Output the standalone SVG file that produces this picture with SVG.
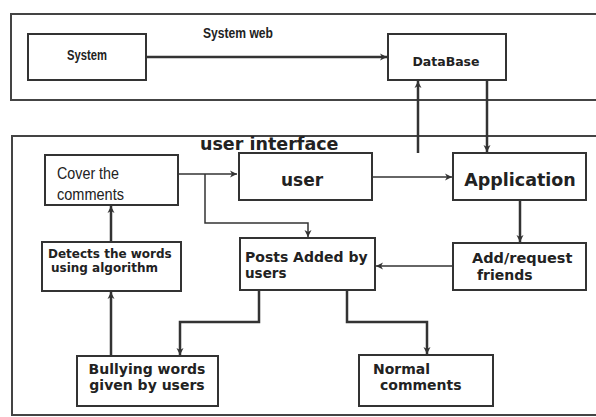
<svg xmlns="http://www.w3.org/2000/svg" width="596" height="417" viewBox="0 0 596 417">
<style>
.box{fill:#fff;stroke:#333;stroke-width:2}
.frame{fill:none;stroke:#444;stroke-width:2}
.b{font-family:"DejaVu Sans",Verdana,sans-serif;font-weight:bold;fill:#222}
.r{font-family:"Liberation Sans",Arial,sans-serif;fill:#222}
.c{fill:none;stroke:#333}
.thick{stroke-width:2.5}
.thin{stroke-width:1.5}
</style>
<defs>
<marker id="ah" markerWidth="10" markerHeight="10" refX="8" refY="5" orient="auto" markerUnits="userSpaceOnUse">
<path d="M1,1.5 L8,5 L1,8.5 L3,5 Z" fill="#333"/>
</marker>
</defs>
<rect width="596" height="417" fill="#fff"/>
<g id="system-web">
<rect class="frame" x="11" y="14" width="600" height="86"/>
<text class="r" x="203" y="38" font-size="15" font-weight="bold" textLength="70" lengthAdjust="spacingAndGlyphs">System web</text>
</g>
<g id="user-interface">
<rect class="frame" x="12" y="136" width="600" height="279"/>
<text class="b" x="200" y="150" font-size="17.5">user interface</text>
</g>
<g id="connectors">
<line class="c thick" x1="146" y1="57" x2="387" y2="57" marker-end="url(#ah)"/>
<line class="c thick" x1="418" y1="153" x2="418" y2="81" marker-end="url(#ah)"/>
<line class="c thick" x1="487" y1="80" x2="487" y2="152" marker-end="url(#ah)"/>
<line class="c thin" x1="178" y1="174" x2="237" y2="174" marker-end="url(#ah)"/>
<polyline class="c thin" points="205,174 205,223 308,223 308,237" marker-end="url(#ah)"/>
<line class="c thin" x1="372" y1="177" x2="452" y2="177" marker-end="url(#ah)"/>
<line class="c thick" x1="520" y1="200" x2="520" y2="242" marker-end="url(#ah)"/>
<line class="c thin" x1="453" y1="266" x2="376" y2="266" marker-end="url(#ah)"/>
<line class="c thick" x1="111" y1="242" x2="111" y2="206" marker-end="url(#ah)"/>
<line class="c thick" x1="111" y1="356" x2="111" y2="292" marker-end="url(#ah)"/>
<polyline class="c thick" points="259,290 259,322 180,322 180,355" marker-end="url(#ah)"/>
<polyline class="c thick" points="347,290 347,322 427,322 427,354" marker-end="url(#ah)"/>
</g>
<g id="system">
<rect class="box" x="28" y="34" width="118" height="46"/>
<text class="r" x="67" y="60" font-size="15" font-weight="bold" textLength="40" lengthAdjust="spacingAndGlyphs">System</text>
</g>
<g id="database">
<rect class="box" x="388" y="34" width="118" height="46"/>
<text class="b" x="446" y="66" font-size="12.5" text-anchor="middle">DataBase</text>
</g>
<g id="cover">
<rect class="box" x="45" y="155" width="133" height="50"/>
<text class="r" x="57" y="179" font-size="16.5" textLength="62" lengthAdjust="spacingAndGlyphs">Cover the</text>
<text class="r" x="57" y="200" font-size="16.5" textLength="67" lengthAdjust="spacingAndGlyphs">comments</text>
</g>
<g id="user">
<rect class="box" x="239" y="153" width="133" height="47"/>
<text class="b" x="302" y="186" font-size="17" text-anchor="middle">user</text>
</g>
<g id="application">
<rect class="box" x="453" y="153" width="133" height="47"/>
<text class="b" x="520" y="186" font-size="17.5" text-anchor="middle">Application</text>
</g>
<g id="detects">
<rect class="box" x="42" y="242" width="139" height="49"/>
<text class="b" x="48" y="258" font-size="12">Detects the words</text>
<text class="b" x="51" y="272" font-size="12">using algorithm</text>
</g>
<g id="posts">
<rect class="box" x="240" y="238" width="135" height="52"/>
<text class="b" x="245" y="262" font-size="14">Posts Added by</text>
<text class="b" x="245" y="278" font-size="13.5">users</text>
</g>
<g id="add-request">
<rect class="box" x="453" y="243" width="133" height="47"/>
<text class="b" x="472" y="263" font-size="14.5">Add/request</text>
<text class="b" x="477" y="280" font-size="14">friends</text>
</g>
<g id="bullying">
<rect class="box" x="77" y="356" width="141" height="50"/>
<text class="b" x="147" y="374" font-size="14" text-anchor="middle">Bullying words</text>
<text class="b" x="147" y="390" font-size="14" text-anchor="middle">given by users</text>
</g>
<g id="normal">
<rect class="box" x="359" y="355" width="134" height="51"/>
<text class="b" x="373" y="374" font-size="14">Normal</text>
<text class="b" x="380" y="390" font-size="14">comments</text>
</g>
</svg>
